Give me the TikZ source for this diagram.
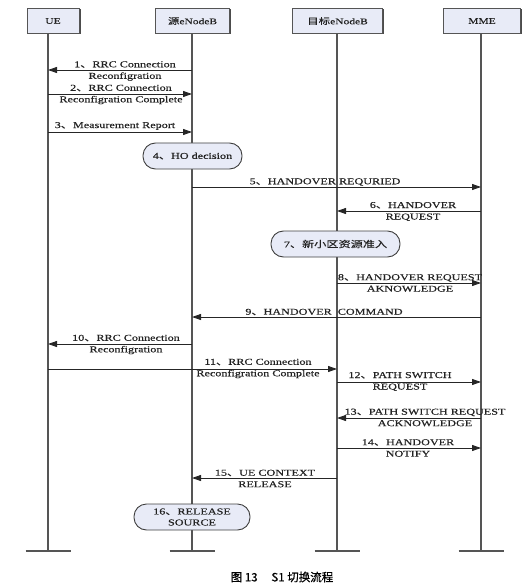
\documentclass[tikz,border=0pt]{standalone}
\usepackage{fontspec}
\setmainfont[FakeStretch=1.35,FakeBold=0.4]{Liberation Serif}
\newfontfamily\cjk[FakeStretch=1.35,FakeBold=0.3]{Noto Sans CJK SC}
\newfontfamily\capfont[FakeBold=0.6]{Noto Sans CJK SC}
\usetikzlibrary{arrows.meta}
\newcommand{\dun}{{\cjk 、}}
\definecolor{boxfill}{HTML}{E8EBF7}
\definecolor{lifegray}{HTML}{555555}
\definecolor{txtgray}{HTML}{222222}
\tikzset{
  hdr/.style={draw=lifegray, line width=0.9pt, fill=boxfill, minimum height=25pt, inner sep=0pt,
    font=\fontsize{8.5}{10}\selectfont, text=txtgray},
  life/.style={draw=lifegray, line width=1.4pt},
  msg/.style={draw=black!85, line width=0.9pt, -{Triangle[length=9pt,width=6pt]}},
  lbl/.style={align=center, inner sep=0pt, font=\fontsize{9}{11.5}\selectfont, text=txtgray},
  actbox/.style={draw=black!75, line width=0.9pt, fill=boxfill, rounded corners=12.5pt,
    minimum height=26pt, inner sep=0pt, align=center, font=\fontsize{9}{11}\selectfont, text=txtgray}
}
\begin{document}
\begin{tikzpicture}[x=1pt,y=-1pt]
\useasboundingbox (0,0) rectangle (526,588);
% headers (shadow)
\foreach \cx/\w in {53/52,192.5/74,337.5/90,482/77}{
  \fill[black!70] (\cx-\w/2+1.5,9.5) rectangle (\cx+\w/2+1.5,34.5);
}
\node[hdr, minimum width=52pt] (ue) at (53,21) {UE};
\node[hdr, minimum width=74pt] (src) at (192.5,21) {{\cjk 源}eNodeB};
\node[hdr, minimum width=90pt] (tgt) at (337.5,21) {{\cjk 目标}eNodeB};
\node[hdr, minimum width=77pt] (mme) at (482,21) {MME};
% bottom coordinates
\coordinate (ueb) at (48,551);
\coordinate (srcb) at (192,551);
\coordinate (tgtb) at (337,551);
\coordinate (mmeb) at (481,551);
% lifelines
\draw[life] (ueb |- ue.south) -- (ueb);
\draw[life] (srcb |- src.south) -- (srcb);
\draw[life] (tgtb |- tgt.south) -- (tgtb);
\draw[life] (mmeb |- mme.south) -- (mmeb);
\foreach \b in {ueb,srcb,tgtb,mmeb}{
  \draw[life] ([xshift=-22.5pt]\b) -- ([xshift=22.5pt]\b);
}
% messages
\draw[msg] (srcb |- 0,70) -- (ueb |- 0,70);
\node[lbl] (l1) at (125,71) {1\dun RRC Connection\\Reconfigration};
\draw[msg] (ueb |- 0,94) -- (srcb |- 0,94);
\node[lbl] (l2) at (121,94.5) {2\dun RRC Connection\\Reconfigration Complete};
\draw[msg] (ueb |- 0,132) -- (srcb |- 0,132);
\node[lbl] (l3) at (115,126) {3\dun Measurement Report};
\node[actbox, minimum width=99pt] (a4) at (192.5,156) {4\dun HO decision};
\draw[msg] (srcb |- 0,187) -- (mmeb |- 0,187);
\node[lbl] (l5) at (325,182) {5\dun HANDOVER REQURIED};
\draw[msg] (mmeb |- 0,211) -- (tgtb |- 0,211);
\node[lbl] (l6) at (413,211.5) {6\dun HANDOVER\\REQUEST};
\node[actbox, minimum width=129pt] (a7) at (335.5,244) {7\dun {\cjk 新小区资源准入}};
\draw[msg] (tgtb |- 0,283) -- (mmeb |- 0,283);
\node[lbl] (l8) at (410,283) {8\dun HANDOVER REQUEST\\AKNOWLEDGE};
\draw[msg] (mmeb |- 0,317) -- (srcb |- 0,317);
\node[lbl] (l9) at (324,312) {9\dun HANDOVER\ \ COMMAND};
\draw[msg] (srcb |- 0,344) -- (ueb |- 0,344);
\node[lbl] (l10) at (126,344.5) {10\dun RRC Connection\\Reconfigration};
\draw[msg] (ueb |- 0,369) -- (tgtb |- 0,369);
\node[lbl] (l11) at (258,368.5) {11\dun RRC Connection\\Reconfigration Complete};
\draw[msg] (tgtb |- 0,382) -- (mmeb |- 0,382);
\node[lbl] (l12) at (400,381.5) {12\dun PATH SWITCH\\REQUEST};
\draw[msg] (mmeb |- 0,418) -- (tgtb |- 0,418);
\node[lbl] (l13) at (425,417.5) {13\dun PATH SWITCH REQUEST\\ACKNOWLEDGE};
\draw[msg] (tgtb |- 0,448) -- (mmeb |- 0,448);
\node[lbl] (l14) at (408,448) {14\dun HANDOVER\\NOTIFY};
\draw[msg] (tgtb |- 0,478) -- (srcb |- 0,478);
\node[lbl] (l15) at (265,478.5) {15\dun UE CONTEXT\\RELEASE};
\node[actbox, minimum width=116pt] (a16) at (192,517) {16\dun RELEASE\\SOURCE};
% caption
\node[inner sep=0pt, font=\capfont\fontsize{11.5}{13}\selectfont, text=black] (cap) at (282,577) {图 13\hspace{1.2em}S1 切换流程};
\end{tikzpicture}
\end{document}
